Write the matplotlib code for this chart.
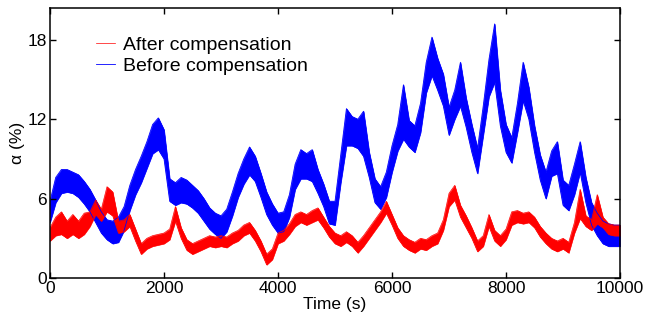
import numpy as np
import matplotlib
matplotlib.use("Agg")
import matplotlib.pyplot as plt

plt.rcParams['font.family'] = ['Liberation Sans', 'DejaVu Sans']

# time axis, one reading every 100 s
time_s = np.arange(0, 10001, 100)

# Before compensation: lower / upper edge of the noisy band (%)
before_lo = [4.2, 5.7, 6.4, 6.5, 6.4, 6.1, 5.6, 5.0, 4.2, 3.4,
             2.9, 2.6, 2.7, 3.6, 5.1, 6.3, 7.2, 8.3, 9.4, 9.7,
             9.0, 5.8, 5.5, 5.7, 5.6, 5.3, 4.9, 4.3, 3.7, 3.3,
             3.0, 3.5, 4.7, 6.1, 7.1, 7.8, 7.3, 6.1, 4.8, 4.0,
             3.4, 3.5, 4.6, 6.7, 7.5, 7.5, 7.3, 6.4, 5.4, 4.1,
             4.0, 7.2, 10.0, 10.0, 9.8, 9.2, 7.6, 5.7, 5.2, 6.1,
             8.0, 9.6, 10.5, 9.9, 9.5, 11.0, 14.0, 15.3, 14.2, 13.0,
             10.8, 12.0, 13.0, 11.4, 9.5, 7.9, 10.8, 13.7, 14.8, 11.5,
             9.5, 8.7, 11.0, 13.4, 12.0, 9.5, 7.4, 6.0, 7.7, 7.9,
             5.5, 5.1, 6.3, 8.0, 5.7, 4.0, 3.2, 2.6, 2.4, 2.4,
             2.4]
before_hi = [5.8, 7.6, 8.2, 8.2, 8.0, 7.8, 7.3, 6.7, 5.9, 5.0,
             4.4, 4.3, 4.6, 5.4, 7.0, 8.2, 9.2, 10.3, 11.6, 12.1,
             11.2, 7.5, 7.2, 7.6, 7.4, 7.0, 6.6, 6.0, 5.3, 4.9,
             4.7, 5.2, 6.5, 7.9, 9.0, 9.9, 9.2, 7.9, 6.5, 5.6,
             4.9, 5.0, 6.3, 8.6, 9.7, 9.4, 9.7, 8.2, 7.1, 5.8,
             5.8, 9.3, 12.8, 12.2, 12.0, 12.6, 9.5, 7.5, 6.9, 8.0,
             10.0, 11.6, 14.6, 11.9, 11.5, 13.2, 16.3, 18.2, 16.6, 15.4,
             12.9, 14.2, 16.3, 13.6, 11.6, 9.8, 13.0, 16.5, 19.2, 14.2,
             11.6, 10.6, 13.2, 16.3, 14.4, 11.5, 9.3, 8.0, 9.6, 10.3,
             7.4, 7.0, 8.6, 10.3, 7.6, 5.7, 4.9, 4.3, 4.1, 4.0,
             4.0]

# After compensation: lower / upper edge of the noisy band (%)
after_lo = [2.8, 3.2, 3.3, 3.0, 3.3, 3.0, 3.3, 3.9, 4.8, 4.3,
            5.0, 4.7, 3.4, 3.5, 3.9, 2.8, 1.8, 2.2, 2.4, 2.5,
            2.6, 2.9, 4.3, 3.0, 2.1, 1.8, 2.0, 2.2, 2.4, 2.3,
            2.4, 2.3, 2.6, 2.8, 3.2, 3.4, 2.8, 2.0, 1.0, 1.4,
            2.6, 2.8, 3.3, 3.9, 4.2, 4.0, 4.2, 4.4, 3.8, 3.1,
            2.6, 2.4, 2.7, 2.4, 1.9, 2.4, 3.0, 3.6, 4.2, 4.9,
            4.0, 3.0, 2.4, 2.1, 1.9, 2.2, 2.1, 2.4, 2.6, 3.6,
            5.4, 5.9, 4.6, 3.8, 3.0, 2.0, 2.4, 3.9, 2.8, 2.4,
            2.9, 4.0, 4.2, 4.1, 4.2, 3.8, 3.1, 2.6, 2.2, 2.0,
            2.2, 1.9, 3.4, 4.5, 3.9, 3.6, 4.1, 3.8, 3.3, 3.2,
            3.2]
after_hi = [3.8, 4.6, 5.0, 4.3, 4.8, 4.3, 4.9, 5.0, 5.9, 5.2,
            6.9, 6.5, 4.3, 4.4, 4.8, 3.7, 2.6, 3.0, 3.2, 3.3,
            3.4, 3.7, 5.4, 3.8, 2.9, 2.6, 2.8, 3.0, 3.2, 3.1,
            3.2, 3.1, 3.4, 3.6, 4.0, 4.2, 3.6, 2.8, 1.8, 2.2,
            3.4, 3.6, 4.1, 4.8, 5.0, 4.8, 5.1, 5.3, 4.6, 3.9,
            3.4, 3.2, 3.5, 3.2, 2.7, 3.2, 3.8, 4.4, 5.0, 5.8,
            4.8, 3.8, 3.2, 2.9, 2.7, 3.0, 2.9, 3.2, 3.4, 4.4,
            6.4, 7.0, 5.5, 4.7, 3.8, 2.8, 3.2, 4.8, 3.6, 3.2,
            3.7, 5.0, 5.1, 4.9, 5.0, 4.6, 3.9, 3.4, 3.0, 2.8,
            3.0, 2.7, 4.2, 6.7, 4.7, 4.4, 6.3, 4.6, 4.1, 4.0,
            4.0]

fig = plt.figure(figsize=(6.46, 3.22), dpi=100)
ax = fig.add_axes([0.0774, 0.1366, 0.8824, 0.8384])

ax.fill_between(time_s, before_lo, before_hi, color='#0000ff', lw=0.5)
ax.plot(time_s, before_hi, color='#0000ff', lw=0.6, label='Before compensation')
ax.plot(time_s, before_lo, color='#0000ff', lw=0.6)

ax.fill_between(time_s, after_lo, after_hi, color='#ff0000', lw=0.4)
ax.plot(time_s, after_hi, color='#ff0000', lw=0.5, label='After compensation')
ax.plot(time_s, after_lo, color='#ff0000', lw=0.5)

ax.set_xlim(0, 10000)
ax.set_ylim(0, 20.4)
ax.set_xticks([0, 2000, 4000, 6000, 8000, 10000])
ax.set_yticks([0, 6, 12, 18])
ax.tick_params(direction='in', top=True, right=True, length=4, width=1,
               labelsize=12.5, pad=2)
for sp in ax.spines.values():
    sp.set_linewidth(1.1)

ax.set_xlabel('Time (s)', fontsize=12.5, labelpad=1)
ax.set_ylabel('α (%)', fontsize=12.5, labelpad=2)

handles, labels = ax.get_legend_handles_labels()
ax.legend(handles[::-1], labels[::-1], loc='upper left', bbox_to_anchor=(0.08, 0.895),
          frameon=False, fontsize=14, handlelength=1.0, handletextpad=0.4,
          labelspacing=0.15, borderpad=0, borderaxespad=0)

fig.savefig('out.png', dpi=100)
